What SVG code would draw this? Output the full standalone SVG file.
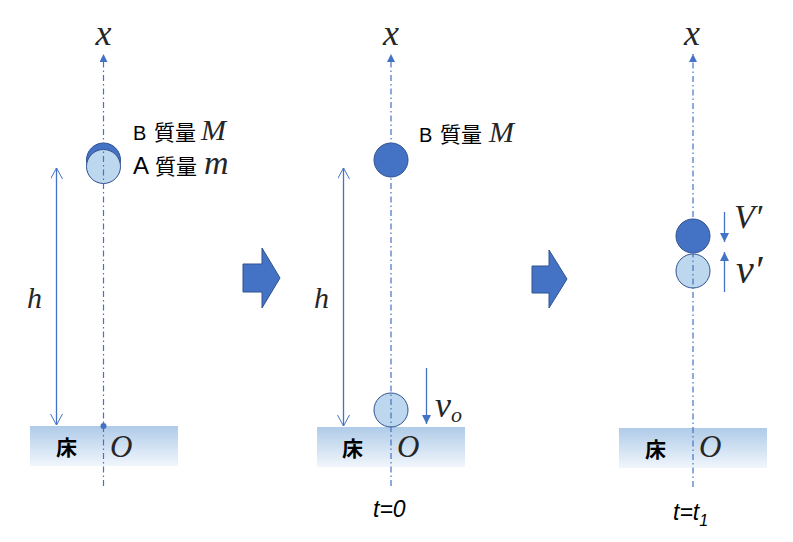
<svg xmlns="http://www.w3.org/2000/svg" width="793" height="542" viewBox="0 0 793 542">
<defs>
<linearGradient id="floorGrad" x1="0" y1="0" x2="0" y2="1">
<stop offset="0" stop-color="#afcbe8"/>
<stop offset="1" stop-color="#f1f6fc"/>
</linearGradient>
<marker id="triUp" markerUnits="userSpaceOnUse" markerWidth="10" markerHeight="10" refX="8" refY="4" orient="auto">
<path d="M0,0 L8,4 L0,8 Z" fill="#4472c4"/>
</marker>
<marker id="tri" markerUnits="userSpaceOnUse" markerWidth="12" markerHeight="12" refX="9" refY="4.5" orient="auto">
<path d="M0,0 L9,4.5 L0,9 Z" fill="#4472c4"/>
</marker>
<marker id="openV" markerUnits="userSpaceOnUse" markerWidth="14" markerHeight="14" refX="11" refY="6" orient="auto-start-reverse">
<path d="M0,0 L11,6 L0,12" fill="none" stroke="#4472c4" stroke-width="1"/>
</marker>
</defs>
<style>
.floor{fill:url(#floorGrad);}
.ballB{fill:#4472c4;stroke:#2f528f;stroke-width:1;}
.ballA{fill:#bdd7ee;stroke:#2f528f;stroke-width:1;}
.axis{stroke:#4472c4;stroke-width:1.2;stroke-dasharray:6 3 1.5 3;fill:none;}
.arr{stroke:#4472c4;stroke-width:1.3;fill:none;}
.block{fill:#4472c4;stroke:#2f528f;stroke-width:1;}
.math{font-family:"Liberation Serif","DejaVu Serif",serif;font-style:italic;fill:#262626;}
.sans{font-family:"Liberation Sans","Noto Sans",sans-serif;fill:#000;}
.cjk{font-family:"Noto Sans CJK JP","Noto Sans",sans-serif;fill:#000;}
.ital{font-family:"Liberation Sans","Noto Sans",sans-serif;font-style:italic;fill:#000;}
</style>
<rect width="793" height="542" fill="#ffffff"/>

<g id="floor1"><rect class="floor" x="30" y="426" width="148" height="40"/>
<text class="cjk" x="56" y="455" font-size="21" font-weight="bold">床</text>
<text class="math" x="110" y="457" font-size="31">O</text></g>
<g id="floor2"><rect class="floor" x="317" y="427" width="148" height="40"/>
<text class="cjk" x="342" y="456" font-size="21" font-weight="bold">床</text>
<text class="math" x="397" y="457" font-size="31">O</text></g>
<g id="floor3"><rect class="floor" x="619" y="428" width="148" height="40"/>
<text class="cjk" x="645" y="457" font-size="21" font-weight="bold">床</text>
<text class="math" x="699" y="457" font-size="31">O</text></g>

<g id="ballsStacked1">
<circle class="ballB" cx="103.5" cy="160" r="17"/>
<circle class="ballA" cx="103.5" cy="166.5" r="17"/>
</g>
<g id="labelB1"><text class="sans" x="133" y="140" font-size="20">B</text>
<text class="cjk" x="154" y="140" font-size="21">質量</text>
<text class="math" x="201" y="140" font-size="30">M</text></g>
<g id="labelA1"><text class="sans" x="133" y="174" font-size="24">A</text>
<text class="cjk" x="155" y="174" font-size="21">質量</text>
<text class="math" x="204" y="174" font-size="34">m</text></g>

<g id="ballB2"><circle class="ballB" cx="391" cy="160" r="17"/></g>
<g id="labelB2"><text class="sans" x="419" y="142" font-size="20">B</text>
<text class="cjk" x="440" y="142" font-size="21">質量</text>
<text class="math" x="489" y="142" font-size="30">M</text></g>
<g id="ballA2"><circle class="ballA" cx="391" cy="410" r="17"/></g>

<g id="ballB3"><circle class="ballB" cx="693" cy="236" r="17"/></g>
<g id="ballA3"><circle class="ballA" cx="693" cy="271" r="17"/></g>

<g id="step1"><polygon class="block" points="243,264 262,264 262,248 280,278 262,308 262,292 243,292"/></g>
<g id="step2"><polygon class="block" points="532,266 549,266 549,250 567,279 549,308 549,293 532,293"/></g>

<g id="connectors">
<line class="axis" x1="103.5" y1="486" x2="103.5" y2="54" marker-end="url(#triUp)"/>
<line class="axis" x1="391" y1="486" x2="391" y2="54" marker-end="url(#triUp)"/>
<line class="axis" x1="693" y1="487" x2="693" y2="54" marker-end="url(#triUp)"/>
<circle cx="103.5" cy="426" r="3" fill="#4472c4"/>
<line class="arr" x1="56.5" y1="168" x2="56.5" y2="425" marker-start="url(#openV)" marker-end="url(#openV)"/>
<line class="arr" x1="343.5" y1="168" x2="343.5" y2="426" marker-start="url(#openV)" marker-end="url(#openV)"/>
<line class="arr" x1="426.5" y1="368" x2="426.5" y2="424" marker-end="url(#tri)"/>
<line class="arr" x1="724.5" y1="212" x2="724.5" y2="242" marker-end="url(#tri)"/>
<line class="arr" x1="724.5" y1="292" x2="724.5" y2="252" marker-end="url(#tri)"/>
</g>

<g id="labels">
<text class="math" x="103.5" y="45" font-size="36" text-anchor="middle">x</text>
<text class="math" x="391" y="45" font-size="36" text-anchor="middle">x</text>
<text class="math" x="692" y="45" font-size="36" text-anchor="middle">x</text>
<text class="math" x="27" y="308" font-size="30">h</text>
<text class="math" x="314" y="308" font-size="30">h</text>
<text class="math" x="435" y="417" font-size="36">v<tspan font-size="22" dy="5">o</tspan></text>
<text class="math" x="734" y="228" font-size="34">V′</text>
<text class="math" x="736" y="283" font-size="40">v′</text>
<text class="ital" x="373" y="517" font-size="23">t=0</text>
<text class="ital" x="673" y="520" font-size="23">t=t<tspan font-size="16" dy="6">1</tspan></text>
</g>
</svg>
